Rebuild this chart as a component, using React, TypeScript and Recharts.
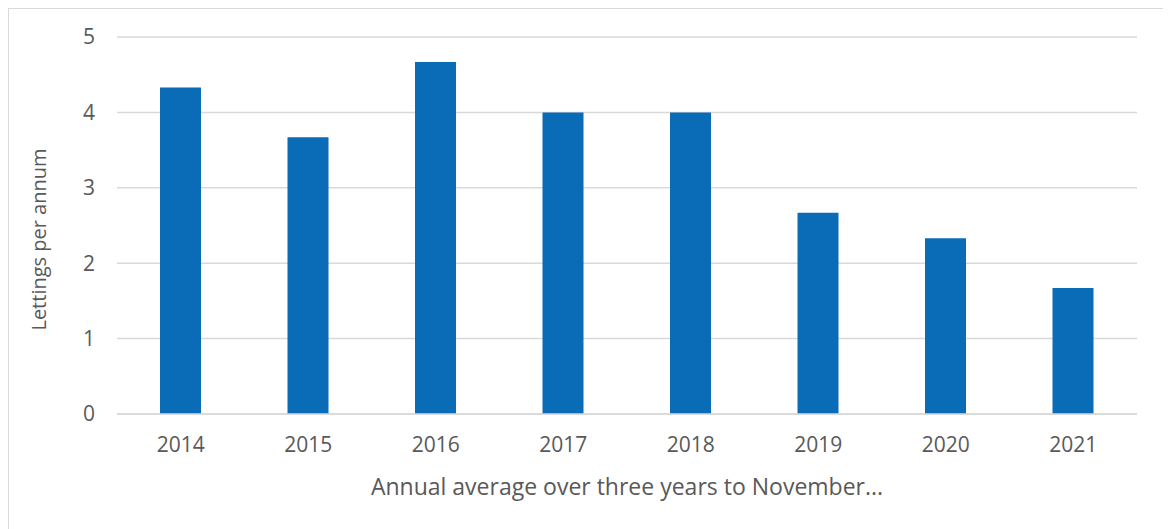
import React from 'react';
import { BarChart, Bar, XAxis, YAxis, CartesianGrid } from 'recharts';

// Lettings per annum, averaged over three years to November
const years = ['2014', '2015', '2016', '2017', '2018', '2019', '2020', '2021'];
const lettings = [4.33, 3.67, 4.67, 4.0, 4.0, 2.67, 2.33, 1.67];
const yTicks = [0, 1, 2, 3, 4, 5];

const data = years.map((year, i) => ({ year, lettings: lettings[i] }));

const FONT = '"Open Sans", "Noto Sans", sans-serif';
const TEXT = '#595959';
const GRID = '#d9d9d9';

const YLabel = (props: any) => {
  const { viewBox } = props;
  const cx = viewBox.x + 29;
  const cy = viewBox.y + viewBox.height / 2 + 14;
  return (
    <text
      x={cx}
      y={cy}
      transform={`rotate(-90, ${cx}, ${cy})`}
      textAnchor="middle"
      dominantBaseline="central"
      fill={TEXT}
      fontSize={20}
      fontFamily={FONT}
    >
      Lettings per annum
    </text>
  );
};

const XLabel = (props: any) => {
  const { viewBox } = props;
  const cx = viewBox.x + viewBox.width / 2;
  const cy = viewBox.y + 72;
  return (
    <text
      x={cx}
      y={cy}
      textAnchor="middle"
      dominantBaseline="central"
      fill={TEXT}
      fontSize={23}
      fontFamily={FONT}
    >
      Annual average over three years to November...
    </text>
  );
};

export default function App() {
  return (
    <div
      style={{
        width: 1157,
        height: 540,
        border: `1px solid ${GRID}`,
        boxSizing: 'border-box',
        background: '#fff',
      }}
    >
      <BarChart
        width={1155}
        height={538}
        data={data}
        margin={{ top: 28, right: 27, left: 0, bottom: 0 }}
      >
        <CartesianGrid vertical={false} stroke={GRID} strokeWidth={1.5} />
        <XAxis
          dataKey="year"
          axisLine={{ stroke: GRID, strokeWidth: 1.5 }}
          tickLine={false}
          tickSize={0}
          tickMargin={23}
          height={133}
          tick={{ fill: TEXT, fontSize: 21, fontFamily: FONT }}
          label={<XLabel />}
        />
        <YAxis
          domain={[0, 5]}
          ticks={yTicks}
          width={108}
          axisLine={false}
          tickLine={false}
          tickSize={0}
          tickMargin={22}
          tick={{ fill: TEXT, fontSize: 21, fontFamily: FONT }}
          label={<YLabel />}
        />
        <Bar dataKey="lettings" fill="#0a6bb6" barSize={41} isAnimationActive={false} />
      </BarChart>
    </div>
  );
}
